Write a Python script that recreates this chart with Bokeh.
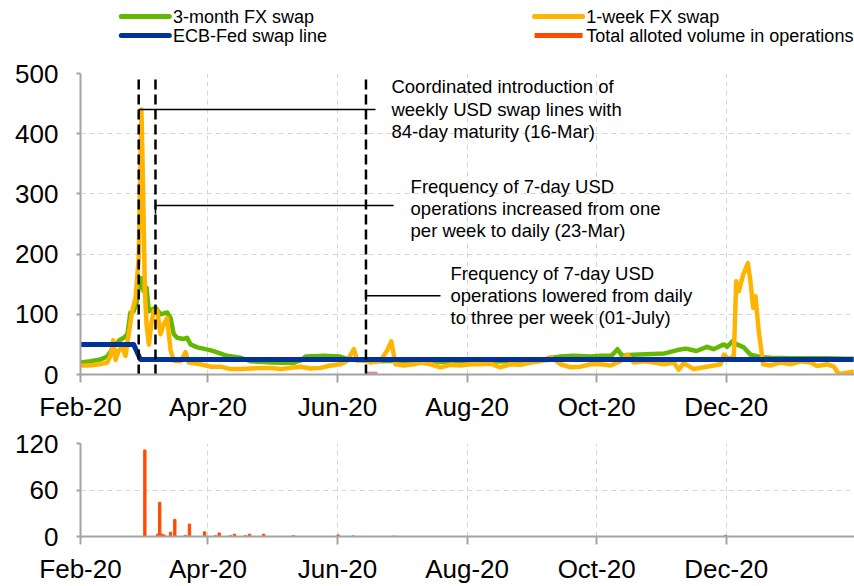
from bokeh.plotting import figure
from bokeh.layouts import column
from bokeh.models import Range1d, FixedTicker
from bokeh.embed import file_html
from bokeh.resources import INLINE
from bokeh.core.properties import value

FONT = "Liberation Sans"
GREEN = "#65B800"
YELLOW = "#FFB400"
BLUE = "#003299"
ORANGE = "#FF4B00"
PINK = "#D9959A"

# ---------------- data (x = days from the start of the axis, Feb-20) ----------------
tick_days = [0, 60, 121, 182, 243, 304]
tick_labels = ["Feb-20", "Apr-20", "Jun-20", "Aug-20", "Oct-20", "Dec-20"]

series_names = ["3-month FX swap", "ECB-Fed swap line", "1-week FX swap",
                "Total alloted volume in operations"]

week_day = [0, 4, 9, 12.6, 14.1, 15.4, 16.5, 18, 19.6, 21.2, 22.7, 24.3, 25.9, 27.4, 28.7, 29.5,
            30.3, 31.1, 32.2, 33.3, 34.5, 36.1, 37.7, 39.1, 40.8, 42.4, 43.9, 47.1, 49.4, 51, 56.5,
            61.2, 65.9, 70.6, 75.3, 80, 84.7, 89.5, 94.2, 98.9, 103.6, 108.3, 113, 117.7, 122.4,
            125.6, 128.7, 130.3, 133.4, 136.5, 141.2, 144.4, 146.3, 148.3, 152.1, 156.8, 160.1,
            164.8, 169.5, 174.2, 178.9, 183.6, 188.3, 193, 197.7, 202.4, 207.2, 211.9, 216.6,
            221.3, 226, 230.7, 235.4, 240.1, 244.8, 249.5, 254.2, 257.4, 260.5, 265, 269.9, 274.6,
            279.3, 281.7, 284, 288.7, 293.5, 298.2, 301.3, 302.9, 305.2, 307.6, 308.7, 309.9, 312,
            314.2, 315.4, 316.7, 317.8, 319.3, 321.4, 324.9, 329.6, 334.3, 339, 343.7, 346.8,
            351.6, 354.7, 357, 361, 364]
week_val = [15, 15, 17, 20, 31, 57, 24, 40, 45, 31, 67, 105, 127, 193, 440, 303,
            139, 83, 50, 83, 106, 106, 67, 83, 94, 40, 23, 22, 37, 20, 17,
            13, 13, 9, 9, 10, 11, 11, 9, 11, 13, 10, 11, 15, 17,
            23, 42, 23, 25, 20, 23, 40, 55, 17, 15, 17, 20,
            17, 12, 16, 15, 17, 17, 18, 12, 17, 16, 20, 22,
            29, 17, 12, 13, 17, 17, 15, 22, 33, 20, 22, 20, 17,
            20, 8, 19, 9, 12, 15, 17, 33, 25, 31, 155, 138, 166,
            185, 155, 111, 130, 72, 17, 15, 20, 17, 22, 20, 14,
            17, 13, 1, 3, 5]

month_day = [0, 4.7, 9.4, 12.6, 15.5, 18, 20.3, 22.1, 23.5, 25, 26.4, 27.8, 28.7, 29.7, 31.1,
             32.2, 33.7, 35.3, 37.7, 40.8, 42.4, 43.9, 45.5, 48.5, 50.2, 51.8, 55, 61.5, 64, 69,
             75.3, 80, 90, 100, 104, 106, 115, 122, 126, 130, 140, 150, 160, 170, 180, 190, 200,
             210, 220, 222, 226, 232, 240, 245, 250, 252.8, 255, 257.4, 260, 269, 275, 281, 285,
             290, 295, 298, 302.9, 304.5, 306.9, 309, 312.3, 315.4, 320, 324.9, 335, 345, 351,
             360, 364]
month_val = [20, 22, 25, 30, 45, 56, 61, 67, 103, 105, 119, 155, 160, 139, 144,
             105, 108, 111, 100, 103, 94, 67, 61, 59, 61, 50, 45, 40, 37, 31,
             28, 22, 20, 19, 24, 30, 31, 30, 25, 24, 22, 23, 22, 21, 22, 21, 22,
             23, 24, 28, 30, 31, 30, 31, 31, 42, 31, 32, 33, 34, 35, 40.6, 43,
             39, 46, 42, 50, 46, 55, 50, 45, 33, 29, 28, 27, 27, 27,
             26, 26]

ecb_day = [0, 25, 28.2, 364]
ecb_val = [50, 50, 25, 25]

alloc_day = [30.3, 36.3, 37.3, 38.3, 39.3, 42.4, 44.4, 49.4, 51.3, 58.4, 63.6, 65.3, 70.6, 72.5,
             77.7, 79.6, 86.2, 100.3, 121.3, 128.4, 147.5, 303.7]
alloc_val = [111.6, 3, 44, 3, 2, 5.5, 22, 1.5, 16, 6, 1, 4.5, 1, 3,
             1, 3, 3, 1, 2, 0.8, 0.6, 1.5]

event_day = [27.4, 35.3, 134.4]

ann_text = ["Coordinated introduction of", "weekly USD swap lines with", "84-day maturity (16-Mar)",
            "Frequency of 7-day USD", "operations increased from one", "per week to daily (23-Mar)",
            "Frequency of 7-day USD", "operations lowered from daily", "to three per week (01-July)"]

# ---------------- layout of the annotations / legend (screen-ish positions) ----------------
ann_x = [146.4] * 3 + [155.4] * 3 + [174.2] * 3
ann_y = [479, 441, 404, 312, 276, 240, 167, 131, 95]
lead_xs = [[27.4, 138.9], [35.3, 35.3, 147.4], [134.4, 134.4, 169.5]]
lead_ys = [[440.4, 440.4], [267, 280.6, 280.6], [121, 131, 131]]

W = 854
LEG_SW_X0 = [45, 45, 501, 501]
LEG_SW_X1 = [98, 98, 554, 554]
LEG_Y = [16, 35, 16, 35]
LEG_TX = [102, 102, 558, 558]


def style(p, yticks):
    p.outline_line_color = None
    p.xaxis.ticker = FixedTicker(ticks=tick_days)
    p.xaxis.major_label_overrides = {d: l for d, l in zip(tick_days, tick_labels)}
    p.yaxis.ticker = FixedTicker(ticks=yticks)
    for ax in p.axis:
        ax.axis_line_color = "#a3a3a3"
        ax.axis_line_width = 2
        ax.major_tick_line_color = "#a3a3a3"
        ax.major_tick_line_width = 2
        ax.minor_tick_line_color = None
        ax.major_tick_in = 0
        ax.major_label_text_font = FONT
        ax.major_label_text_font_size = "26px"
        ax.major_label_text_color = "black"
    p.xaxis.major_tick_out = 8
    p.xaxis.major_label_standoff = 9
    p.yaxis.major_tick_out = 4
    p.yaxis.major_label_standoff = 18
    for g in p.grid:
        g.grid_line_color = "#d6d6d6"
        g.grid_line_dash = "5 4"
        g.grid_line_width = 1


# ---------------- legend strip ----------------
leg = figure(width=W, height=58, x_range=Range1d(0, W), y_range=Range1d(58, 0),
             output_backend="svg", toolbar_location=None, min_border=0,
             x_axis_location=None, y_axis_location=None)
leg.grid.visible = False
leg.outline_line_color = None
leg_colors = [GREEN, BLUE, YELLOW, ORANGE]
leg.segment(x0=LEG_SW_X0[:3], y0=LEG_Y[:3], x1=LEG_SW_X1[:3], y1=LEG_Y[:3],
            line_color=leg_colors[:3], line_width=5, line_cap="round")
leg.segment(x0=LEG_SW_X0[3:], y0=LEG_Y[3:], x1=LEG_SW_X1[3:], y1=LEG_Y[3:],
            line_color=leg_colors[3:], line_width=5, line_cap="butt")
leg.text(x=LEG_TX, y=LEG_Y, text=series_names, text_font=value(FONT), text_font_size="18px",
         text_baseline="middle", text_align="left", text_color="black")

# ---------------- top chart ----------------
top = figure(width=W, height=366, x_range=Range1d(0, 364.4), y_range=Range1d(0, 500),
             output_backend="svg", toolbar_location=None,
             min_border_left=80, min_border_right=0, min_border_top=15, min_border_bottom=47)
style(top, [0, 100, 200, 300, 400, 500])

top.line(month_day, month_val, color=GREEN, line_width=4.5, line_join="round")
top.line(week_day, week_val, color=YELLOW, line_width=4.5, line_join="round")
top.line(ecb_day, ecb_val, color=BLUE, line_width=5, line_join="round")
top.quad(left=[134.6], right=[139.6], bottom=[0], top=[4], color=PINK)
top.segment(x0=event_day, y0=0, x1=event_day, y1=490, line_color="black",
            line_width=2.5, line_dash="10 5")
top.multi_line(xs=lead_xs, ys=lead_ys, line_color="black", line_width=1.5)
top.text(x=ann_x, y=ann_y, text=ann_text, text_font=value(FONT), text_font_size="18.5px",
         text_baseline="middle", text_align="left", text_color="black")

# ---------------- bottom chart ----------------
bot = figure(width=W, height=162, x_range=top.x_range, y_range=Range1d(0, 120),
             output_backend="svg", toolbar_location=None,
             min_border_left=80, min_border_right=0, min_border_top=19, min_border_bottom=47)
style(bot, [0, 60, 120])
bot.vbar(x=alloc_day, top=alloc_val, width=1.1, color=ORANGE)

layout = column(leg, top, bot, spacing=0)
open("out.html", "w").write(file_html(layout, INLINE))
